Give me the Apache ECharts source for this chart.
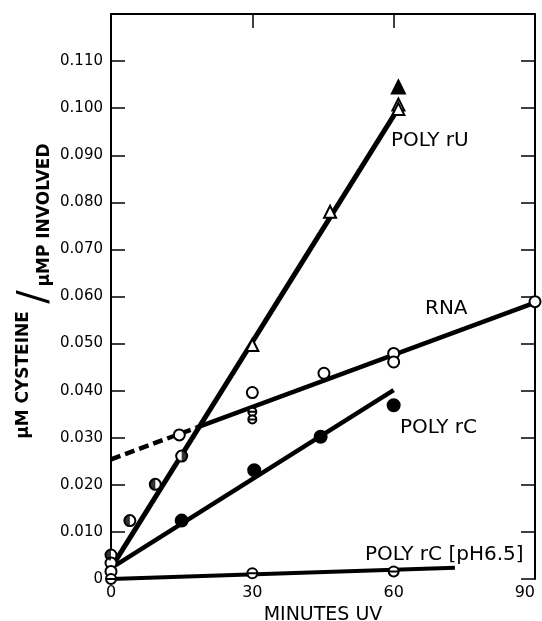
<!DOCTYPE html>
<html>
<head>
<meta charset="utf-8">
<script src="https://cdn.jsdelivr.net/npm/echarts@6/dist/echarts.min.js"></script>
<style>
  html, body { margin: 0; padding: 0; background: #fff; overflow: hidden; }
  #main { width: 542px; height: 621px; }
</style>
</head>
<body>
<div id="main"></div>
<script>
// x = minutes UV, y = uM cysteine / uMP involved
var xTicks = [0, 30, 60, 90];
var yTickLabels = ['0', '0.010', '0.020', '0.030', '0.040', '0.050', '0.060',
                   '0.070', '0.080', '0.090', '0.100', '0.110', ''];

// POLY rU (triangles)
var ruOpen = [[30, 0.0497], [46.5, 0.078], [61, 0.1008], [61, 0.0998]];
var ruFilled = [[61, 0.1045]];
var ruFit = [[0, 0.0023], [61, 0.1]];
// half filled circles, early times
var halfLeft = [[4, 0.0124], [9.4, 0.0201], [0, 0.0051]];
var halfRight = [[15, 0.0261]];
var zeroOpen = [[0, 0.0034], [0, 0.0016]];

// RNA (open circles)
var rnaPts = [[14.5, 0.0306], [30, 0.0396], [45.2, 0.0437], [60, 0.0479], [60, 0.0461], [90, 0.0589]];
var rnaSmall = [[30, 0.0355], [30, 0.0339]];
var rnaDash = [[0, 0.0254], [18, 0.0321]];
var rnaFit = [[18, 0.0321], [90, 0.0587]];

// POLY rC (filled circles)
var rcPts = [[15, 0.0124], [30.4, 0.0231], [44.5, 0.0302], [60, 0.0369]];
var rcFit = [[0, 0.0023], [60, 0.0401]];

// POLY rC pH 6.5
var phPts = [[0, 0], [30, 0.0012], [60, 0.0016]];
var phFit = [[0, 0], [73, 0.0024]];

var FONT = 'DejaVu Sans';
var barCircle = 'path://M10,0 A10,10 0 1 1 9.99,0 Z M0,10 L20,10';

function fitLine(data, width, dash) {
    return {
        type: 'line', data: data, showSymbol: false, z: 2, silent: true,
        lineStyle: { color: '#000', width: width, type: dash || 'solid', cap: 'butt' }
    };
}
function dots(data, symbol, size, fill, extra) {
    var s = {
        type: 'scatter', data: data, symbol: symbol, symbolSize: size, z: 3, clip: false,
        itemStyle: { color: fill, borderColor: '#000', borderWidth: 2, opacity: 1 }
    };
    for (var k in extra) s[k] = extra[k];
    return s;
}
function note(text, x, y, size, rot, weight) {
    return {
        type: 'text', x: x, y: y, rotation: rot || 0,
        style: {
            text: text, fill: '#000', font: (weight || 'normal') + ' ' + size + 'px "' + FONT + '"',
            align: rot ? 'center' : 'left', verticalAlign: 'middle',
            textAlign: rot ? 'center' : 'left', textVerticalAlign: 'middle'
        }
    };
}
// frame axis (top / right): line + inward ticks, no labels
var frameLine = { show: true, onZero: false, lineStyle: { color: '#000', width: 2 } };
var frameTick = { show: true, inside: true, length: 14, lineStyle: { color: '#000', width: 1.5 } };

var chart = echarts.init(document.getElementById('main'));
chart.setOption({
    animation: false,
    backgroundColor: '#fff',
    grid: { left: 111, right: 7, top: 14, bottom: 42, containLabel: false, outerBoundsMode: 'none' },
    xAxis: [{
        type: 'value', min: 0, max: 90, interval: 30, position: 'bottom',
        name: 'MINUTES UV', nameLocation: 'middle', nameGap: 25,
        nameTextStyle: { color: '#000', fontFamily: FONT, fontSize: 19 },
        axisLine: { show: false, onZero: false }, axisTick: { show: false }, splitLine: { show: false },
        axisLabel: { color: '#000', fontFamily: FONT, fontSize: 16, margin: 6, alignMaxLabel: 'right',
            formatter: function (v) { return xTicks.indexOf(v) >= 0 ? String(v) : ''; } }
    }, {
        type: 'value', min: 0, max: 90, interval: 30, position: 'top',
        axisLine: frameLine, axisTick: frameTick,
        axisLabel: { show: false }, splitLine: { show: false }
    }],
    yAxis: [{
        type: 'value', min: 0, max: 0.12, interval: 0.01, position: 'left',
        axisLine: frameLine, axisTick: frameTick,
        splitLine: { show: false },
        axisLabel: { color: '#000', fontFamily: FONT, fontSize: 15, margin: 8,
            formatter: function (v) { return yTickLabels[Math.round(v / 0.01)] || ''; } }
    }, {
        type: 'value', min: 0, max: 0.12, interval: 0.01, position: 'right',
        axisLine: frameLine, axisTick: frameTick,
        axisLabel: { show: false }, splitLine: { show: false }
    }],
    graphic: [
        note('μM CYSTEINE', 24, 375, 17, Math.PI / 2, 'bold'),
        note('/', 36, 297, 40, Math.PI / 2, 'normal'),
        note('μMP INVOLVED', 45, 215, 17, Math.PI / 2, 'bold'),
        note('POLY rU', 391, 141, 20),
        note('RNA', 425, 309, 20),
        note('POLY rC', 400, 428, 20),
        note('POLY rC [pH6.5]', 365, 555, 20)
    ],
    series: [
        fitLine(ruFit, 5),
        fitLine(rnaDash, 4.5, [10, 5]),
        fitLine(rnaFit, 4.5),
        fitLine(rcFit, 4.5),
        fitLine(phFit, 4),
        dots(ruOpen, 'triangle', 12, '#fff'),
        dots(ruFilled, 'triangle', 13, '#000'),
        dots(halfLeft.concat(halfRight).concat(zeroOpen), 'circle', 11, '#fff'),
        dots(halfLeft, 'path://M10,0 A10,10 0 0 0 10,20 Z', [5.5, 11], '#000',
             { symbolOffset: [-2.75, 0], z: 4, itemStyle: { color: '#000', borderWidth: 0 } }),
        dots(halfRight, 'path://M0,0 A10,10 0 0 1 0,20 Z', [5.5, 11], '#000',
             { symbolOffset: [2.75, 0], z: 4, itemStyle: { color: '#000', borderWidth: 0 } }),
        dots(rnaPts, 'circle', 11, '#fff'),
        dots(rnaSmall, barCircle, 8, '#fff'),
        dots(rcPts, 'circle', 12, '#000'),
        dots(phPts, barCircle, 10, '#fff')
    ]
});
</script>
</body>
</html>
